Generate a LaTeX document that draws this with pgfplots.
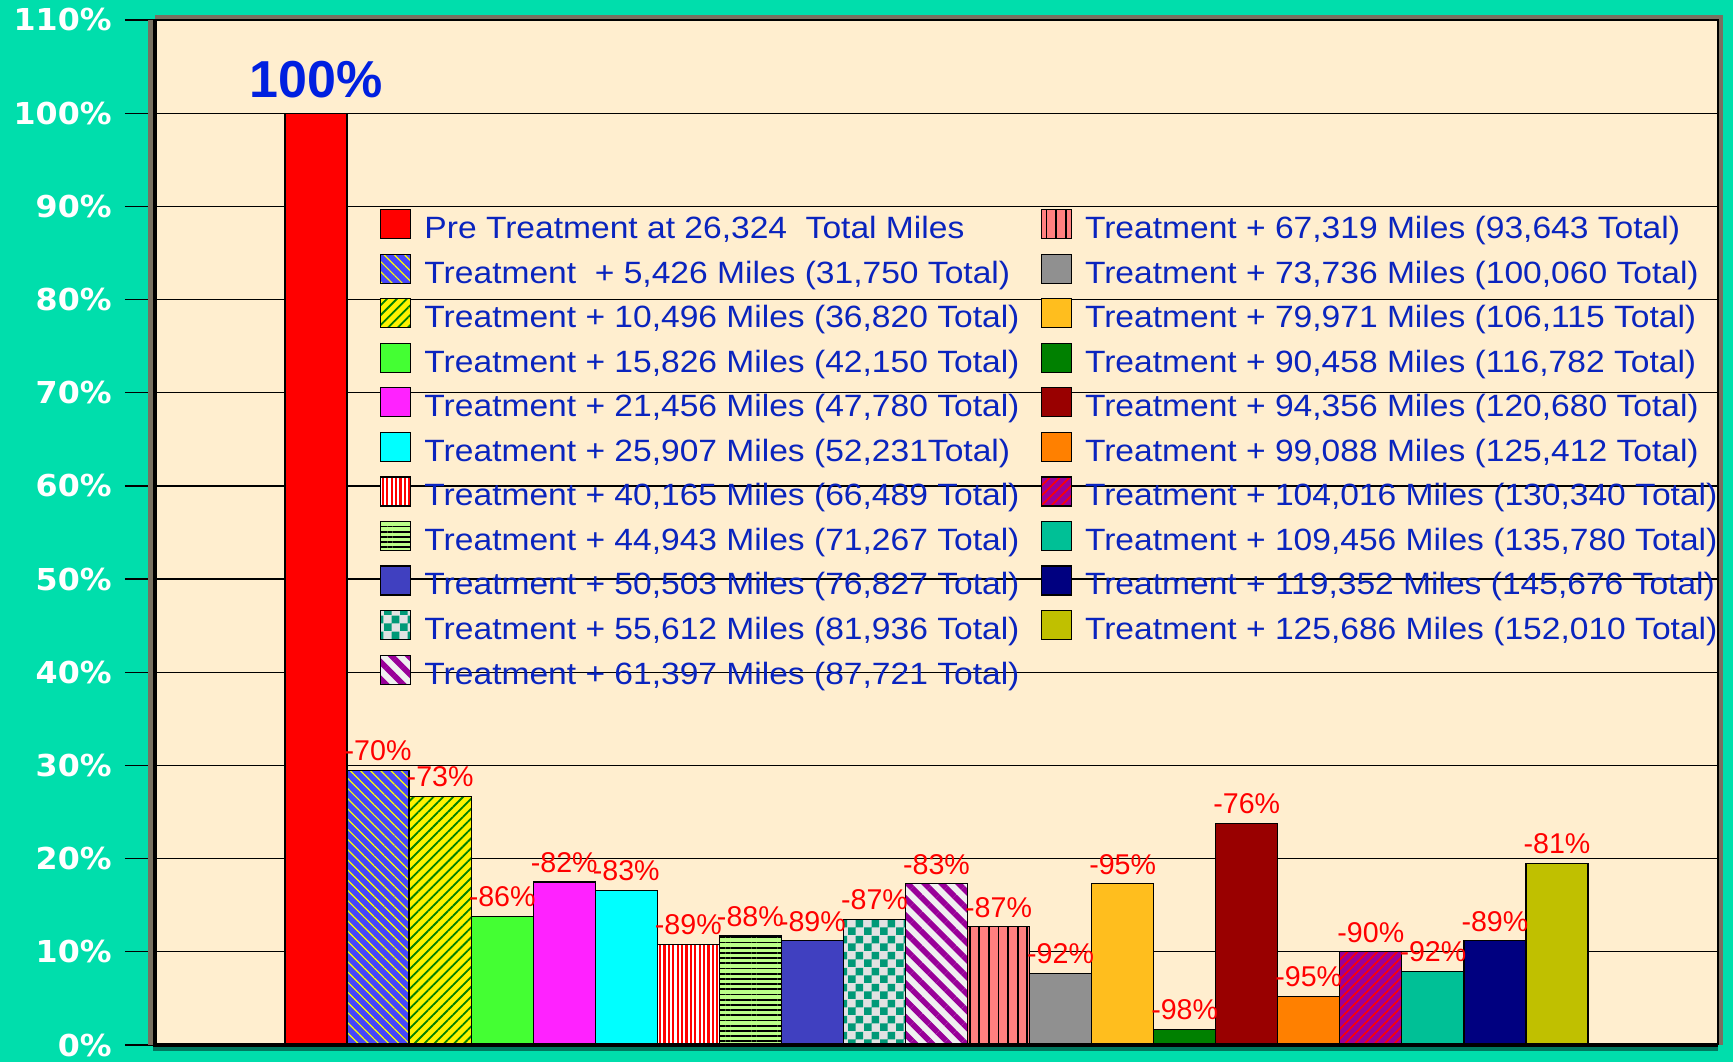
\documentclass[border=0pt]{standalone}
\usepackage{pgfplots}
\pgfplotsset{compat=1.18}
\usepackage{fontspec}
\setmainfont{Liberation Sans}
\newfontfamily\legfont[FakeStretch=1.09]{Liberation Sans}
\newfontfamily\tickfont[FakeStretch=1.05]{DejaVu Sans}
\usetikzlibrary{patterns,patterns.meta}

\definecolor{bgteal}{RGB}{0,222,172}
\definecolor{darkteal}{RGB}{0,120,95}
\definecolor{cream}{RGB}{255,238,207}
\definecolor{framegray}{RGB}{120,112,96}
\definecolor{legblue}{RGB}{10,36,190}
\definecolor{bigblue}{RGB}{0,32,224}
\definecolor{c2}{RGB}{70,70,250}
\definecolor{c4}{RGB}{68,255,51}
\definecolor{c5}{RGB}{255,34,255}
\definecolor{c6}{RGB}{0,255,255}
\definecolor{c8}{RGB}{187,255,136}
\definecolor{c9}{RGB}{64,64,192}
\definecolor{c10a}{RGB}{226,226,226}
\definecolor{c10b}{RGB}{0,153,119}
\definecolor{c11a}{RGB}{240,240,240}
\definecolor{c11b}{RGB}{153,0,153}
\definecolor{c12}{RGB}{255,128,128}
\definecolor{c13}{RGB}{144,144,144}
\definecolor{c14}{RGB}{255,190,30}
\definecolor{c15}{RGB}{0,128,0}
\definecolor{c16}{RGB}{153,0,0}
\definecolor{c17}{RGB}{255,128,0}
\definecolor{c18}{RGB}{153,0,153}
\definecolor{c19}{RGB}{0,192,150}
\definecolor{c20}{RGB}{0,0,128}
\definecolor{c21}{RGB}{192,192,0}

\pgfdeclarepatternformonly{bigchecker}{\pgfpointorigin}{\pgfqpoint{8pt}{8pt}}{\pgfqpoint{8pt}{8pt}}{%
  \pgfpathrectangle{\pgfpointorigin}{\pgfqpoint{4pt}{4pt}}%
  \pgfpathrectangle{\pgfqpoint{4pt}{4pt}}{\pgfqpoint{4pt}{4pt}}%
  \pgfusepath{fill}}

\pgfplotsset{
  mybar/.style={ybar, bar width=1, bar shift=0pt, draw=black, line width=0.6pt,
    legend image code/.code={\draw[##1] (0pt,-5.4pt) rectangle (15pt,9.1pt);}},
  lab/.style={nodes near coords={#1}},
}

\begin{document}
\begin{tikzpicture}
\fill[bgteal] (-77.5pt,-8.5pt) rectangle (789pt,522.5pt);
\begin{axis}[
  at={(0,0)}, anchor=south west,
  scale only axis, width=781.5pt, height=512.5pt,
  xmin=-2.595, xmax=22.595, ymin=0, ymax=110,
  xtick=\empty,
  ytick={0,10,...,110},
  yticklabel={\pgfmathprintnumber{\tick}\%},
  /pgf/number format/assume math mode=true,
  yticklabel style={font=\tickfont\bfseries\fontsize{15.1pt}{18pt}\selectfont, text=white, anchor=east, inner sep=0pt, xshift=-6.5pt},
  tick align=outside, ytick pos=left,
  major tick length=15pt,
  ytick style={black, line width=0.6pt},
  ymajorgrids, major grid style={black, line width=0.6pt},
  axis line style={draw=none},
  axis background/.style={fill=cream},
  clip=false,
  every node near coord/.append style={font=\fontsize{14.3pt}{16pt}\selectfont, text=red, anchor=base, yshift=4.8pt, inner sep=0pt},
  legend style={draw=none, fill=none, at={(axis description cs:0.144,0.8156)}, anchor=north west,
    inner sep=0pt, outer sep=0pt,
    font=\legfont\fontsize{15.4pt}{18pt}\selectfont, text=legblue,
    row sep=3.73pt,
    nodes={inner sep=0pt, text height=14.5pt, text depth=3.8pt},
    /tikz/every odd column/.append style={column sep=6.6pt},
    /tikz/every even column/.append style={column sep=10.6pt}},
  legend cell align=left,
  transpose legend,
  legend columns=11,
]
\addplot[mybar, fill=red, lab={100\%}, nodes near coords style={font=\bfseries\fontsize{26pt}{28pt}\selectfont, text=bigblue, yshift=3.2pt}] coordinates {(0,100)};
\addlegendentry{Pre Treatment at 26,324\ \ Total Miles}
\addplot[mybar, fill=c2, postaction={pattern={Lines[angle=-45,distance=3.6pt,line width=0.6pt]}, pattern color=yellow}, lab={-70\%}] coordinates {(1,29.5)};
\addlegendentry{Treatment\ \ + 5,426 Miles (31,750 Total)}
\addplot[mybar, fill=yellow, postaction={pattern={Lines[angle=45,distance=3.5pt,line width=0.9pt]}, pattern color=c15}, lab={-73\%}] coordinates {(2,26.7)};
\addlegendentry{Treatment + 10,496 Miles (36,820 Total)}
\addplot[mybar, fill=c4, lab={-86\%}] coordinates {(3,13.8)};
\addlegendentry{Treatment + 15,826 Miles (42,150 Total)}
\addplot[mybar, fill=c5, lab={-82\%}] coordinates {(4,17.5)};
\addlegendentry{Treatment + 21,456 Miles (47,780 Total)}
\addplot[mybar, fill=c6, lab={-83\%}] coordinates {(5,16.6)};
\addlegendentry{Treatment + 25,907 Miles (52,231Total)}
\addplot[mybar, fill=white, postaction={pattern={Lines[angle=90,distance=2.2pt,line width=1.1pt]}, pattern color=red}, lab={-89\%}] coordinates {(6,10.8)};
\addlegendentry{Treatment + 40,165 Miles (66,489 Total)}
\addplot[mybar, fill=c8, postaction={pattern={Lines[angle=0,distance=2.6pt,line width=0.9pt]}, pattern color=black}, lab={-88\%}] coordinates {(7,11.7)};
\addlegendentry{Treatment + 44,943 Miles (71,267 Total)}
\addplot[mybar, fill=c9, lab={-89\%}] coordinates {(8,11.2)};
\addlegendentry{Treatment + 50,503 Miles (76,827 Total)}
\addplot[mybar, fill=c10a, postaction={pattern=bigchecker, pattern color=c10b}, lab={-87\%}] coordinates {(9,13.5)};
\addlegendentry{Treatment + 55,612 Miles (81,936 Total)}
\addplot[mybar, fill=c11a, postaction={pattern={Lines[angle=-45,distance=6pt,line width=2.8pt]}, pattern color=c11b}, lab={-83\%}] coordinates {(10,17.3)};
\addlegendentry{Treatment + 61,397 Miles (87,721 Total)}
\addplot[mybar, fill=c12, postaction={pattern={Lines[angle=90,distance=4.8pt,line width=0.9pt]}, pattern color=black}, lab={-87\%}] coordinates {(11,12.7)};
\addlegendentry{Treatment + 67,319 Miles (93,643 Total)}
\addplot[mybar, fill=c13, lab={-92\%}] coordinates {(12,7.7)};
\addlegendentry{Treatment + 73,736 Miles (100,060 Total)}
\addplot[mybar, fill=c14, lab={-95\%}] coordinates {(13,17.3)};
\addlegendentry{Treatment + 79,971 Miles (106,115 Total)}
\addplot[mybar, fill=c15, lab={-98\%}] coordinates {(14,1.7)};
\addlegendentry{Treatment + 90,458 Miles (116,782 Total)}
\addplot[mybar, fill=c16, lab={-76\%}] coordinates {(15,23.8)};
\addlegendentry{Treatment + 94,356 Miles (120,680 Total)}
\addplot[mybar, fill=c17, lab={-95\%}] coordinates {(16,5.2)};
\addlegendentry{Treatment + 99,088 Miles (125,412 Total)}
\addplot[mybar, fill=c18, postaction={pattern={Lines[angle=45,distance=3.5pt,line width=0.8pt]}, pattern color=red}, lab={-90\%}] coordinates {(17,10.0)};
\addlegendentry{Treatment + 104,016 Miles (130,340 Total)}
\addplot[mybar, fill=c19, lab={-92\%}] coordinates {(18,7.9)};
\addlegendentry{Treatment + 109,456 Miles (135,780 Total)}
\addplot[mybar, fill=c20, lab={-89\%}] coordinates {(19,11.2)};
\addlegendentry{Treatment + 119,352 Miles (145,676 Total)}
\addplot[mybar, fill=c21, lab={-81\%}] coordinates {(20,19.5)};
\addlegendentry{Treatment + 125,686 Miles (152,010 Total)}
\end{axis}
% frame
\fill[framegray] (0pt,512.5pt) rectangle (784pt,515pt);
\fill[framegray] (781.5pt,0pt) rectangle (784pt,515pt);
\fill[framegray] (-3.5pt,0pt) rectangle (-1.2pt,512.5pt);
\fill[darkteal] (-1.2pt,-1pt) rectangle (781.5pt,-3pt);
\draw[black, line width=0.6pt] (0pt,512.5pt) -- (781.5pt,512.5pt) -- (781.5pt,0pt);
\draw[black, line width=2.4pt] (0pt,512.5pt) -- (0pt,0pt) -- (781.5pt,0pt);
\pgfresetboundingbox
\path[use as bounding box] (-77.5pt,-8.5pt) rectangle (789pt,522.5pt);
\end{tikzpicture}
\end{document}
